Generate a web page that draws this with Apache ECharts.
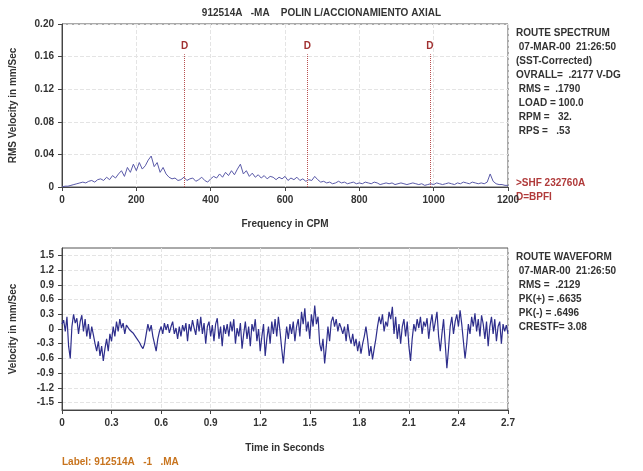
<!DOCTYPE html>
<html lang="en">
<head>
  <meta charset="UTF-8">
  <title>Route Spectrum / Waveform</title>
  <script src="https://cdn.jsdelivr.net/npm/echarts@6.0.0/dist/echarts.min.js"></script>
  <style>
    html, body { margin: 0; padding: 0; background: #fff; }
    #main { width: 643px; height: 471px; }
  </style>
</head>
<body>
  <div id="main"></div>
<script type="text/javascript">
  // spectrum: one value every 8 CPM, 0..1200
  var specStep = 8;
  var specValues = [
    0.000, 0.001, 0.001, 0.002, 0.003, 0.004, 0.005, 0.006, 0.005, 0.007,
    0.008, 0.006, 0.009, 0.010, 0.008, 0.012, 0.009, 0.014, 0.011, 0.016,
    0.020, 0.013, 0.024, 0.018, 0.028, 0.020, 0.030, 0.022, 0.026, 0.033,
    0.038, 0.025, 0.030, 0.018, 0.024, 0.016, 0.012, 0.010, 0.011, 0.008,
    0.009, 0.012, 0.008, 0.010, 0.011, 0.007, 0.009, 0.012, 0.008, 0.006,
    0.010, 0.013, 0.011, 0.016, 0.012, 0.018, 0.014, 0.020, 0.015, 0.022,
    0.028, 0.016, 0.020, 0.013, 0.017, 0.012, 0.015, 0.011, 0.014, 0.010,
    0.013, 0.012, 0.009, 0.012, 0.010, 0.013, 0.008, 0.011, 0.009, 0.012,
    0.008, 0.010, 0.007, 0.009, 0.008, 0.013, 0.009, 0.006, 0.007, 0.005,
    0.006, 0.004, 0.005, 0.007, 0.005, 0.006, 0.004, 0.005, 0.006, 0.004,
    0.005, 0.004, 0.006, 0.005, 0.004, 0.006, 0.005, 0.003, 0.004, 0.005,
    0.004, 0.005, 0.003, 0.004, 0.005, 0.004, 0.003, 0.004, 0.005, 0.004,
    0.003, 0.004, 0.002, 0.003, 0.004, 0.003, 0.005, 0.004, 0.003, 0.004,
    0.005, 0.004, 0.003, 0.005, 0.004, 0.006, 0.005, 0.004, 0.006, 0.005,
    0.004, 0.005, 0.004, 0.006, 0.016, 0.007, 0.004, 0.003, 0.003, 0.002,
    0.002
  ];
  var dMarkers = [330, 660, 990];
  var dTop = 0.163;

  // waveform: one sample every 0.01 s, 0..2.7
  var waveStep = 0.01;
  var waveValues = [
    0.10, 0.18, -0.05, 0.25, -0.35, -0.60, 0.05, 0.30, 0.12, 0.22,
    -0.10, 0.15, 0.28, -0.05, 0.20, -0.15, 0.10, -0.20, 0.05, -0.12,
    -0.30, -0.45, -0.25, -0.55, -0.35, -0.65, -0.40, -0.20, -0.45, -0.10,
    -0.25, 0.05, -0.15, 0.15, -0.05, 0.20, 0.02, 0.12, -0.10, 0.08,
    0.05, -0.02, 0.02, -0.08, -0.12, -0.18, -0.22, -0.28, -0.35, -0.40,
    -0.30, -0.10, 0.10, -0.05, 0.08, -0.15, -0.30, -0.45, -0.20, -0.05,
    0.05, -0.10, 0.12, -0.02, 0.10, -0.08, 0.05, 0.15, -0.10, 0.02,
    -0.20, 0.05, -0.15, 0.08, -0.05, 0.12, -0.25, 0.10, -0.05, 0.18,
    0.02, -0.12, 0.20, -0.05, 0.25, -0.10, 0.12, -0.30, 0.05, 0.15,
    -0.15, 0.08, -0.25, 0.10, 0.22, -0.20, 0.05, -0.35, 0.08, -0.10,
    0.10, -0.15, 0.15, -0.05, 0.20, -0.30, 0.02, -0.15, 0.12, -0.40,
    -0.10, 0.15, -0.20, 0.05, -0.35, 0.10, -0.05, 0.20, -0.25, 0.00,
    -0.45, -0.15, 0.10, -0.55, -0.20, 0.05, -0.30, 0.15, -0.10, 0.20,
    -0.15, 0.25, -0.05, -0.40, -0.70, -0.30, 0.05, -0.20, 0.10, -0.10,
    0.15, -0.25, 0.05, 0.20, -0.15, 0.35, 0.10, 0.42, -0.05, 0.15,
    -0.20, 0.30, 0.05, 0.48, 0.10, 0.25, -0.30, -0.45, -0.20, -0.70,
    -0.35, 0.05, -0.25, 0.15, 0.25, 0.05, 0.20, -0.05, 0.12, 0.02,
    -0.10, 0.05, -0.25, 0.10, -0.15, -0.30, -0.10, -0.35, -0.20, -0.45,
    -0.25, -0.50, -0.30, -0.15, 0.05, -0.20, -0.55, -0.35, -0.62, -0.40,
    -0.20, 0.05, 0.25, 0.10, 0.30, -0.05, 0.15, 0.05, 0.35, 0.20,
    0.45, -0.10, 0.25, -0.20, 0.10, -0.30, 0.05, 0.20, -0.15, 0.15,
    -0.35, -0.65, -0.20, 0.10, -0.05, 0.20, 0.02, 0.25, -0.10, 0.15,
    0.05, 0.22, -0.20, 0.10, 0.30, -0.05, 0.15, 0.35, -0.15, -0.45,
    -0.10, 0.20, -0.30, -0.80, -0.40, 0.05, 0.25, -0.10, 0.15, 0.30,
    0.05, 0.38, 0.10, -0.25, -0.60, -0.30, 0.10, -0.10, 0.25, 0.05,
    0.32, -0.05, 0.20, -0.15, 0.28, 0.10, -0.20, 0.15, -0.35, 0.05,
    0.25, -0.10, 0.20, -0.25, 0.05, 0.15, -0.30, 0.10, -0.05, 0.08,
    -0.10
  ];
  var waveTicks = [-1.5, -1.2, -0.9, -0.6, -0.3, 0, 0.3, 0.6, 0.9, 1.2, 1.5];

  var titleText = '912514A   -MA    POLIN L/ACCIONAMIENTO AXIAL';
  var specInfo = ['ROUTE SPECTRUM', ' 07-MAR-00  21:26:50', '(SST-Corrected)', 'OVRALL=  .2177 V-DG',
    ' RMS =  .1790', ' LOAD = 100.0', ' RPM =   32.', ' RPS =   .53'];
  var specNotes = ['>SHF 232760A', 'D=BPFI'];
  var waveInfo = ['ROUTE WAVEFORM', ' 07-MAR-00  21:26:50', ' RMS =  .2129', ' PK(+) = .6635', ' PK(-) = .6496', ' CRESTF= 3.08'];
  var footLabel = 'Label: 912514A   -1   .MA';

  var font = '"Liberation Sans", Arial, sans-serif';
  var txt = { fontFamily: font, fontSize: 10, fontWeight: 'bold', color: '#333' };

  var specData = specValues.map(function (v, i) { return [i * specStep, v]; });
  var waveData = waveValues.map(function (v, i) { return [+(i * waveStep).toFixed(2), v]; });

  function plain(v) { return String(+v.toFixed(2)); }

  var axisCommon = {
    axisLine: { show: true, onZero: false, lineStyle: { color: '#444', width: 1 } },
    axisTick: { show: true, length: 4, lineStyle: { color: '#444' } },
    axisLabel: Object.assign({}, txt, { margin: 8, formatter: plain }),
    splitLine: { show: true, lineStyle: { color: '#e4e4e4', type: 'dashed' } },
    nameTextStyle: Object.assign({}, txt)
  };

  var chart = echarts.init(document.getElementById('main'), null, { renderer: 'canvas' });
  chart.setOption({
    backgroundColor: '#fff',
    animation: false,
    grid: [
      { left: 62, right: 135, top: 24, height: 163, show: true, borderColor: '#555', borderWidth: 1 },
      { left: 62, right: 135, top: 248, height: 162, show: true, borderColor: '#555', borderWidth: 1 }
    ],
    xAxis: [
      Object.assign({}, axisCommon, {
        type: 'value', gridIndex: 0, min: 0, max: 1200, interval: 200,
        name: 'Frequency in CPM', nameLocation: 'middle', nameGap: 32
      }),
      Object.assign({}, axisCommon, {
        type: 'value', gridIndex: 1, min: 0, max: 2.7, interval: 0.3,
        name: 'Time in Seconds', nameLocation: 'middle', nameGap: 33
      })
    ],
    yAxis: [
      Object.assign({}, axisCommon, {
        type: 'value', gridIndex: 0, min: 0, max: 0.2, interval: 0.04,
        axisLabel: Object.assign({}, txt, { margin: 8, formatter: function (v) { return v === 0 ? '0' : v.toFixed(2); } }),
        name: 'RMS Velocity in mm/Sec', nameLocation: 'middle', nameGap: 44
      }),
      Object.assign({}, axisCommon, {
        type: 'value', gridIndex: 1, min: -1.65, max: 1.65,
        axisTick: { show: true, length: 4, lineStyle: { color: '#444' }, customValues: waveTicks },
        axisLabel: Object.assign({}, txt, { margin: 8, customValues: waveTicks, formatter: plain }),
        name: 'Velocity in mm/Sec', nameLocation: 'middle', nameGap: 44
      })
    ],
    series: [
      {
        type: 'line', xAxisIndex: 0, yAxisIndex: 0, data: specData,
        showSymbol: false, lineStyle: { color: '#5a5aa8', width: 1 },
        markLine: {
          silent: true, symbol: 'none',
          lineStyle: { color: '#b85050', type: 'dotted', width: 1 },
          label: { show: true, position: 'end', formatter: 'D', color: '#a03030', fontFamily: font, fontSize: 10, fontWeight: 'bold', distance: 3 },
          data: dMarkers.map(function (f) { return [{ coord: [f, 0] }, { coord: [f, dTop] }]; })
        }
      },
      {
        type: 'line', xAxisIndex: 1, yAxisIndex: 1, data: waveData,
        showSymbol: false, lineStyle: { color: '#2e2e8c', width: 1.2 }
      }
    ],
    graphic: [
      { type: 'text', left: 'center', x: -36, top: 8, style: { text: titleText, fill: '#333', font: 'bold 10px ' + font } },
      { type: 'text', left: 516, top: 26, style: { text: specInfo.join('\n'), fill: '#333', font: 'bold 10px ' + font, lineHeight: 14 } },
      { type: 'text', left: 516, top: 176, style: { text: specNotes.join('\n'), fill: '#b03a3a', font: 'bold 10px ' + font, lineHeight: 14 } },
      { type: 'text', left: 516, top: 250, style: { text: waveInfo.join('\n'), fill: '#333', font: 'bold 10px ' + font, lineHeight: 14 } },
      { type: 'text', left: 62, top: 457, style: { text: footLabel, fill: '#c8741e', font: 'bold 10px ' + font } }
    ]
  });
</script>
</body>
</html>
